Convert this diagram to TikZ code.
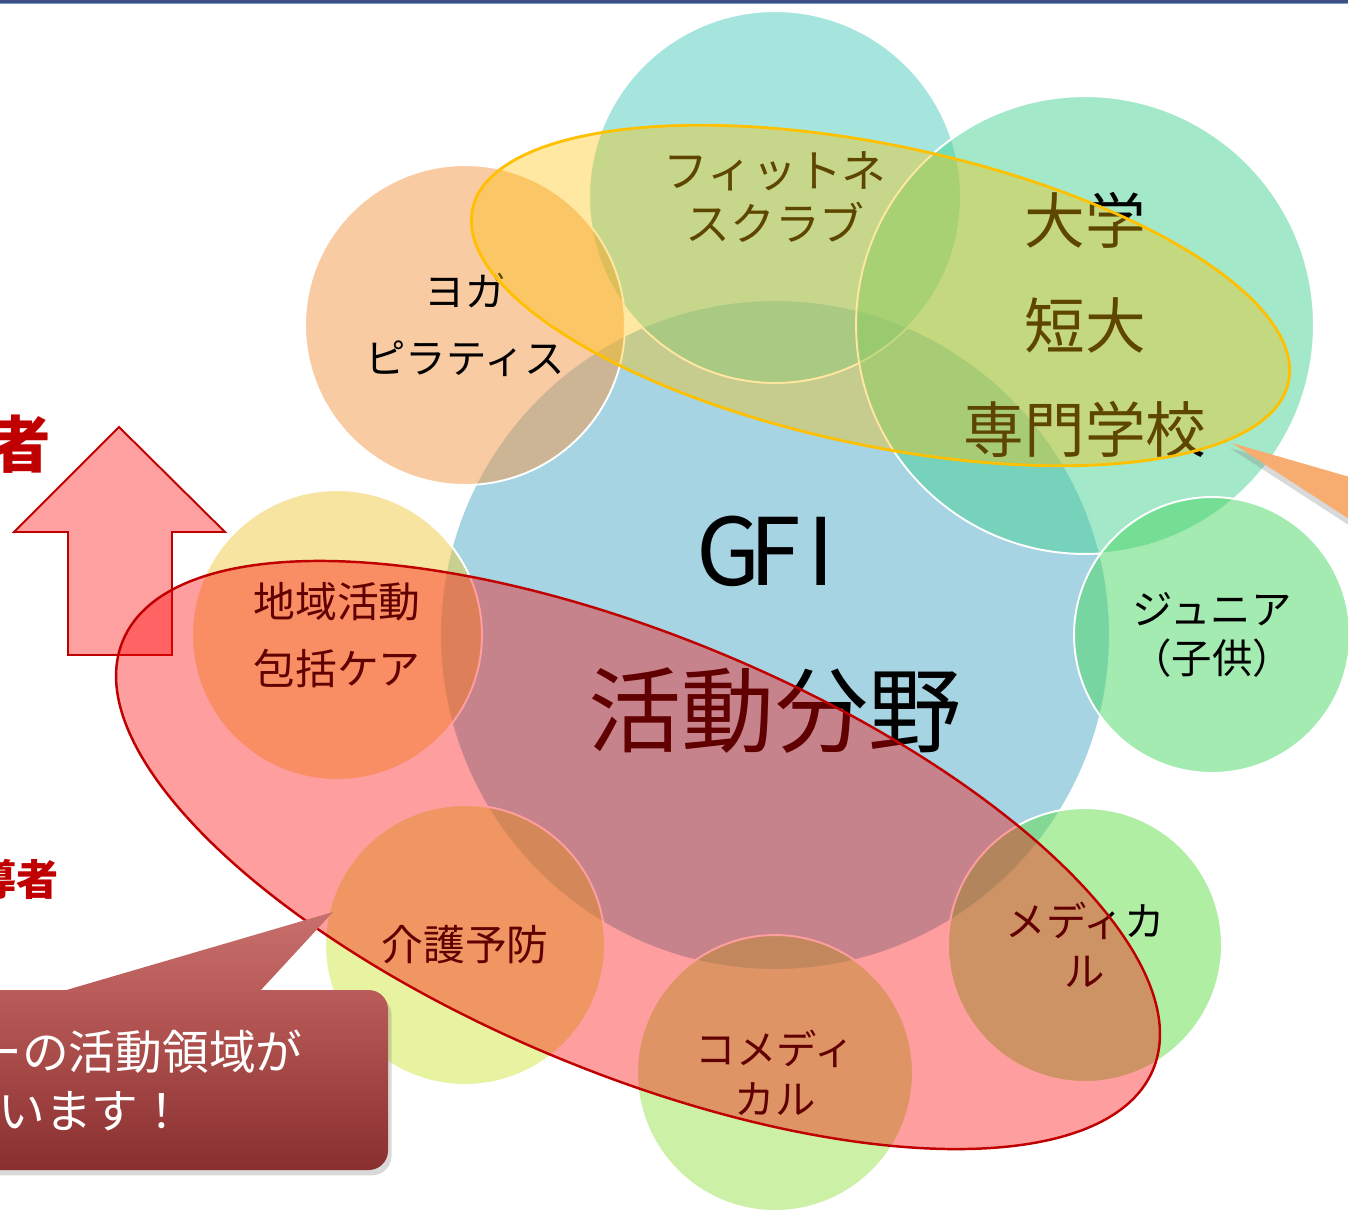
\documentclass[tikz,border=0pt]{standalone}
\usepackage{fontspec}
\setmainfont{Noto Sans CJK JP}
\usetikzlibrary{shadows}
\definecolor{cBand}{RGB}{62,79,133}
\definecolor{cBandLine}{RGB}{120,155,200}
\definecolor{cGfi}{RGB}{166,212,226}
\definecolor{cFit}{RGB}{77,203,189}
\definecolor{cYoga}{RGB}{243,151,71}
\definecolor{cUniv}{RGB}{71,209,147}
\definecolor{cJr}{RGB}{71,215,97}
\definecolor{cArea}{RGB}{237,201,65}
\definecolor{cCare}{RGB}{207,231,65}
\definecolor{cComed}{RGB}{153,225,77}
\definecolor{cMed}{RGB}{97,221,73}
\definecolor{cRed}{RGB}{192,0,0}
\definecolor{cGold}{RGB}{255,192,0}
\definecolor{cPink}{RGB}{255,160,160}
\definecolor{cOrange}{RGB}{247,173,111}
\definecolor{cTipTop}{RGB}{199,112,108}
\definecolor{cBoxTop}{RGB}{186,92,89}
\definecolor{cBoxBot}{RGB}{137,47,47}
\begin{document}
\begin{tikzpicture}[x=0.02cm,y=-0.02cm,
  softcircle/.style={circle,draw=white,line width=1.1pt,fill opacity=0.5,text opacity=1,inner sep=0pt,align=center,minimum size=#1},
  smalltext/.style={font=\fontsize{23}{28.3}\selectfont}]
\useasboundingbox (0,0) rectangle (1348,1211);
\fill[cBand] (0,0) rectangle (1348,3.3);
\fill[cBandLine] (0,3.3) rectangle (1348,4.4);
% up arrow
\draw[cRed,line width=1.1pt,fill=cPink,miter limit=10] (68,655) -- (68,532) -- (14,532) -- (119,427) -- (225,532) -- (172,532) -- (172,655) -- cycle;
% circles
\node[softcircle=13.4cm,fill=cGfi,fill opacity=1,font=\fontsize{53}{91}\selectfont] (gfi) at (775,635) {\makebox[.5em]{G}\makebox[.5em]{F}\makebox[.5em]{I}\\活動分野};
\node[softcircle=7.44cm,fill=cFit,font=\fontsize{25.5}{30}\selectfont] (fit) at (775,197) {フィットネ\\スクラブ};
\node[softcircle=6.4cm,fill=cYoga,font=\fontsize{23}{38}\selectfont] (yoga) at (465,325) {ヨガ\\ピラティス};
\node[softcircle=9.16cm,fill=cUniv,font=\fontsize{34.5}{59.5}\selectfont] (univ) at (1085,325) {大学\\短大\\専門学校};
\node[softcircle=5.52cm,fill=cJr,smalltext] (jr) at (1212,635) {ジュニア\\（子供）};
\node[softcircle=5.48cm,fill=cMed,smalltext] (med) at (1085,945) {メディカ\\ル};
\node[softcircle=5.52cm,fill=cComed,smalltext] (comed) at (775,1073) {コメディ\\カル};
\node[softcircle=5.6cm,fill=cCare,font=\fontsize{23.8}{38}\selectfont] (care) at (465,945) {介護予防};
\node[softcircle=5.8cm,fill=cArea,font=\fontsize{23.8}{38}\selectfont] (area) at (337,635) {地域活動\\包括ケア};
% groups
\draw[cGold,line width=1.6pt,fill=cGold,fill opacity=0.37,rotate around={-11.95:(880.5,295.5)}] (880.5,295.5) ellipse [x radius=417,y radius=150];
\draw[cRed,line width=1.4pt,fill=red,fill opacity=0.38,rotate around={-22.6:(638,855)}] (638,855) ellipse [x radius=558,y radius=218];
% callouts
\fill[cOrange,drop shadow={opacity=0.3,shadow xshift=-1pt,shadow yshift=-3pt}] (1232,443) -- (1360,480) -- (1360,526) -- cycle;
\shade[top color=cBoxTop,bottom color=cBoxBot,rounded corners=11pt,drop shadow={opacity=0.3,shadow xshift=2pt,shadow yshift=-3pt}] (-60,990) rectangle (388,1170);
\shade[top color=cTipTop,bottom color=cBoxTop] (63,991) -- (333,912) -- (260,991) -- cycle;
\node[white,anchor=west,inner sep=0pt,font=\fontsize{26.6}{30}\selectfont] (msg1) at (-25,1052) {ーの活動領域が};
\node[white,anchor=west,inner sep=0pt,font=\fontsize{26.6}{30}\selectfont] (msg2) at (-2,1111) {います！};
% side words
\node[cRed,inner sep=0pt,font=\fontsize{35}{35}\selectfont\bfseries] (lead1) at (20,444) {者};
\node[cRed,inner sep=0pt,font=\fontsize{24}{24}\selectfont\bfseries] (lead2) at (17,879) {導者};
\end{tikzpicture}
\end{document}
